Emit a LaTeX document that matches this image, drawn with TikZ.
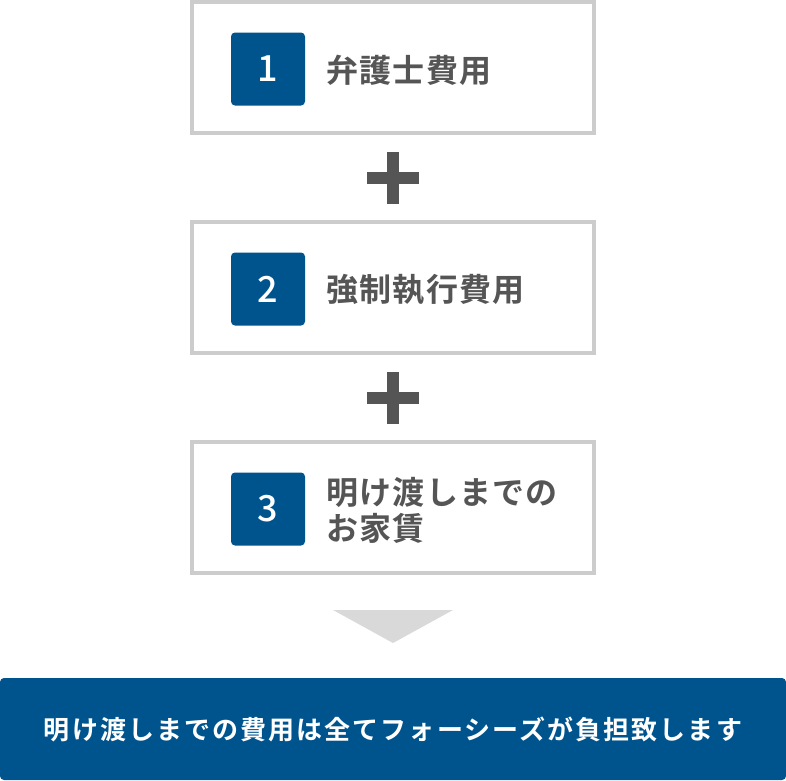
\documentclass[tikz,border=0pt]{standalone}
\usepackage{fontspec}
\setmainfont{Noto Sans}
\newfontfamily\jpfont{Noto Sans CJK JP}[BoldFont=* Bold]
\newfontfamily\numfont{Noto Sans CJK JP Medium}
\usetikzlibrary{positioning,calc}
\definecolor{costblue}{HTML}{00548E}
\definecolor{frame}{HTML}{CCCCCC}
\definecolor{textgray}{HTML}{555555}
\definecolor{arrowgray}{HTML}{D9D9D9}

\begin{document}
\begin{tikzpicture}[x=1pt,y=-1pt,
    itembox/.style={draw=frame,line width=4pt,fill=white,minimum width=402pt,minimum height=131pt,inner sep=0pt},
    badge/.style={fill=costblue,rounded corners=4pt,minimum width=74pt,minimum height=73pt,inner sep=0pt,
                  text=white,font=\numfont\fontsize{36}{36}\selectfont},
    itemtext/.style={anchor=west,inner sep=0pt,text=textgray,align=left,
                  font=\jpfont\bfseries\addfontfeatures{LetterSpace=4}\fontsize{32}{36}\selectfont},
    plusbar/.style={fill=textgray}
  ]
  \useasboundingbox (0,0) rectangle (786,780);

  % the three cost items
  \node[itembox] (box1) at (393,67) {};
  \node[itembox] (box2) at (393,287) {};
  \node[itembox] (box3) at (393,507) {};

  \node[badge] (num1) at (268,69) {1};
  \node[badge] (num2) at (268,289) {2};
  \node[badge] (num3) at (268,509) {3};

  \node[itemtext] (lab1) at (326,70) {弁護士費用};
  \node[itemtext] (lab2) at (326,290) {強制執行費用};
  \node[itemtext] (lab3) at (326,510) {明け渡しまでの\\お家賃};

  % plus signs between the boxes
  \foreach \upper/\lower in {box1/box2,box2/box3}{
    \coordinate (mid) at ($(\upper.south)!0.5!(\lower.north)$);
    \fill[plusbar] ($(mid)+(-26,-5)$) rectangle ($(mid)+(26,7)$);
    \fill[plusbar] ($(mid)+(-6,-25)$) rectangle ($(mid)+(6,27)$);
  }

  % arrow down to the total
  \fill[arrowgray] (333,610) -- (453,610) -- (393,643) -- cycle;

  % total
  \node[fill=costblue,rounded corners=4pt,minimum width=786pt,minimum height=102pt,inner sep=0pt,
        text=white,font=\jpfont\bfseries\addfontfeatures{LetterSpace=8}\fontsize{26}{26}\selectfont]
       (total) at (393,729) {明け渡しまでの費用は全てフォーシーズが負担致します};
\end{tikzpicture}
\end{document}
